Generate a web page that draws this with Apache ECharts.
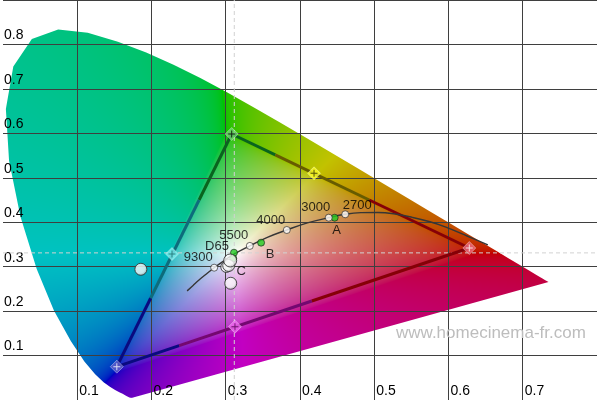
<!DOCTYPE html>
<html><head><meta charset="utf-8">
<script src="https://cdn.jsdelivr.net/npm/echarts@6/dist/echarts.min.js"></script>
<style>html,body{margin:0;padding:0;background:#fff}#c{width:600px;height:400px}</style>
</head><body><div id="c"></div>
<script>
// ---------- DATA ----------
const xTickLabels = ['', '0.1', '0.2', '0.3', '0.4', '0.5', '0.6', '0.7', ''];
const yTickLabels = ['', '0.1', '0.2', '0.3', '0.4', '0.5', '0.6', '0.7', '0.8', ''];

// CIE 1931 spectral locus (x, y), 380..700 nm
const spectralLocus = [
  [0.17411,0.00496],[0.17401,0.00498],[0.17380,0.00492],[0.17356,0.00492],[0.17334,0.00480],
  [0.17302,0.00478],[0.17258,0.00480],[0.17209,0.00483],[0.17141,0.00510],[0.17030,0.00579],
  [0.16888,0.00690],[0.16690,0.00856],[0.16441,0.01086],[0.16110,0.01379],[0.15664,0.01770],
  [0.15099,0.02274],[0.14396,0.02970],[0.13550,0.03988],[0.12412,0.05780],[0.10959,0.08684],
  [0.09129,0.13270],[0.06871,0.20072],[0.04539,0.29498],[0.02346,0.41270],[0.00817,0.53842],
  [0.00386,0.65482],[0.01387,0.75019],[0.03885,0.81202],[0.07430,0.83380],[0.11416,0.82621],
  [0.15472,0.80586],[0.19288,0.78163],[0.22962,0.75433],[0.26578,0.72432],[0.30160,0.69231],
  [0.33736,0.65885],[0.37310,0.62445],[0.40874,0.58961],[0.44406,0.55471],[0.47877,0.52020],
  [0.51249,0.48659],[0.54479,0.45443],[0.57515,0.42423],[0.60293,0.39650],[0.62704,0.37249],
  [0.64823,0.35139],[0.66576,0.33401],[0.68008,0.31975],[0.69150,0.30834],[0.70061,0.29930],
  [0.70792,0.29203],[0.71403,0.28593],[0.71903,0.28093],[0.72303,0.27695],[0.72599,0.27401],
  [0.73035,0.26965],[0.73288,0.26712],[0.73469,0.26531]
];

// colour-temperature curve
const tempCurve = [
  [0.2480,0.2455],[0.2560,0.2578],[0.2640,0.2700],[0.2735,0.2830],[0.2844,0.2977],
  [0.2960,0.3115],[0.3110,0.3280],[0.3324,0.3467],[0.3560,0.3660],[0.3822,0.3825],
  [0.4100,0.3985],[0.4387,0.4102],[0.4609,0.4178],[0.4820,0.4215],[0.5050,0.4220],
  [0.5300,0.4180],[0.5511,0.4110],[0.5750,0.4010],[0.5956,0.3895],[0.6250,0.3690],
  [0.6530,0.3488]
];
const tempNames  = ['9300', '5500', '4000', '3000', '2700'];
const tempPoints = [[0.2844,0.2977],[0.3324,0.3467],[0.3822,0.3825],[0.4387,0.4102],[0.4609,0.4178]];

const illumNames  = ['C', 'D65', 'B', 'A'];
const illumPoints = [[0.3101,0.3187],[0.3111,0.3315],[0.3476,0.3540],[0.4467,0.4102]];

const whitePoint = [0.3115, 0.3310];

// target primaries / secondaries
const targetNames  = ['R', 'G', 'B', 'Cy', 'M', 'Ye'];
const targetPoints = [[0.628,0.342],[0.308,0.5985],[0.1533,0.075],[0.2276,0.3285],[0.3124,0.1650],[0.4189,0.5101]];

// gamut triangle edges, with the points where the line colour changes
const edgeGB = [[0.308,0.5985],[0.2641,0.4500],[0.1988,0.2290],[0.1533,0.075]];
const edgeGR = [[0.308,0.5985],[0.3667,0.5515],[0.4933,0.4500],[0.628,0.342]];
const edgeBR = [[0.1533,0.075],[0.2373,0.1223],[0.4160,0.2228],[0.628,0.342]];

// measured points
const measuredPoints = [[0.1857,0.2941],[0.3067,0.2626],[0.3007,0.2993],[0.3040,0.3026],[0.3060,0.3139]];

// ---------- STYLES ----------
const FONT = '"Liberation Sans", Arial, sans-serif';
const edgeColors = {
  GB: ['#09641e', '#0d6c7c', '#0a0a80'],
  GR: ['#09641e', '#675c00', '#860007'],
  BR: ['#0a0a80', '#740870', '#860007']
};
const targetFill  = {R:'#ee6c7e', G:'#6fd46f', B:'#6363cc', Cy:'#7eeeee', M:'#f06cf0', Ye:'#ffff2a'};
const targetCross = {R:'#ffffff', G:'#000000', B:'#ffffff', Cy:'#1a6f6f', M:'#5a005a', Ye:'#333300'};
const tempLabelOffset  = {'9300':[-16,-10], '5500':[-16,-10], '4000':[-16,-10], '3000':[-13,-10], '2700':[12,-9]};
const illumLabelOffset = {'C':[8,13], 'D65':[-17,-6], 'B':[9,12], 'A':[2,13]};
const measuredSize = [12, 12, 11, 12, 13];

// ---------- COLOUR FIELD ----------
let fieldCanvas = null;
function gam(c){ c = Math.max(0, Math.min(1, c)); return c <= 0.0031308 ? 12.92*c : 1.055*Math.pow(c, 1/2.4) - 0.055; }
function xyToRGB(x, y){
  if (y <= 0.0001) y = 0.0001;
  const X = x / y, Y = 1, Z = (1 - x - y) / y;
  let r = 3.2406*X - 1.5372*Y - 0.4986*Z;
  let g = -0.9689*X + 1.8758*Y + 0.0415*Z;
  let b = 0.0557*X - 0.2040*Y + 1.0570*Z;
  const m = Math.min(r, g, b);
  if (m < 0) { r -= m; g -= m; b -= m; }
  const mx = Math.max(r, g, b) || 1;
  r /= mx; g /= mx; b /= mx;
  const w = Math.min(r, g, b);
  const k = 0.76 + 0.24 * Math.pow(w, 0.8);
  return [gam(r)*k*255, gam(g)*k*255, gam(b)*k*255];
}
function buildField(chart, W, H){
  const cv = document.createElement('canvas');
  cv.width = W; cv.height = H;
  const ctx = cv.getContext('2d');
  const img = ctx.createImageData(W, H);
  const cols = [], rows = [];
  for (let px = 0; px < W; px++) cols.push(chart.convertFromPixel({gridIndex:0}, [px + 0.5, 0])[0]);
  for (let py = 0; py < H; py++) rows.push(chart.convertFromPixel({gridIndex:0}, [0, py + 0.5])[1]);
  for (let py = 0; py < H; py++) {
    for (let px = 0; px < W; px++) {
      const c = xyToRGB(cols[px], rows[py]);
      const i = (py*W + px)*4;
      img.data[i] = c[0]; img.data[i+1] = c[1]; img.data[i+2] = c[2]; img.data[i+3] = 255;
    }
  }
  ctx.putImageData(img, 0, 0);
  return cv;
}

// ---------- OPTION ----------
function crossPath(){ return 'path://M3,0h1v3h3v1h-3v3h-1v-3h-3v-1h3z'; }

function buildOption(){
  const series = [];
  series.push({
    type: 'custom', id: 'locus', z: -1, silent: true,
    data: spectralLocus,
    renderItem: function(params, api){
      if (params.dataIndex !== 0) return null;
      const pts = spectralLocus.map(p => api.coord(p));
      return {type:'polygon', shape:{points: pts},
        style:{fill: fieldCanvas ? {image: fieldCanvas, repeat: 'no-repeat'} : 'rgba(0,0,0,0)', stroke: null}};
    }
  });
  // dashed crosshair through the white point
  series.push({type:'line', z: 1, silent: true, symbol:'none',
    data: [[whitePoint[0], 0], [whitePoint[0], 0.9]],
    lineStyle:{color:'#d2d2d2', width:1, type:[4,3]}});
  series.push({type:'line', z: 1, silent: true, symbol:'none',
    data: [[0, whitePoint[1]], [0.8, whitePoint[1]]],
    lineStyle:{color:'#d2d2d2', width:1, type:[4,3]}});
  // gamut edges
  const edges = {GB: edgeGB, GR: edgeGR, BR: edgeBR};
  Object.keys(edges).forEach(k => {
    const e = edges[k];
    for (let i = 0; i < e.length - 1; i++) {
      series.push({type:'line', z: 3, silent: true, symbol:'none',
        data:[e[i], e[i+1]], lineStyle:{color: edgeColors[k][i], width: 3, cap:'butt'}});
    }
  });
  // temperature curve
  series.push({type:'line', z: 4, silent: true, symbol:'none', smooth: 0.4,
    data: tempCurve, lineStyle:{color:'#363636', width: 1.4}});
  // target diamonds
  series.push({type:'scatter', z: 5, silent: true, symbol:'diamond', symbolSize: 13,
    data: targetNames.map((n, i) => ({name:n, value: targetPoints[i],
      itemStyle:{color: targetFill[n], borderColor:'rgba(255,255,255,0.45)', borderWidth: 1}}))});
  series.push({type:'scatter', z: 6, silent: true, symbol: crossPath(), symbolSize: 7,
    data: targetNames.map((n, i) => ({name:n, value: targetPoints[i], itemStyle:{color: targetCross[n]}}))});
  // illuminants (green dots)
  series.push({type:'scatter', z: 6, silent: true, symbolSize: 7,
    itemStyle:{color:'#22cc22', borderColor:'#1a1a1a', borderWidth: 0.8},
    label:{show:true, position:'inside', formatter:'{b}', color:'#000', fontFamily: FONT, fontSize: 13},
    data: illumNames.map((n, i) => ({name:n, value: illumPoints[i], label:{offset: illumLabelOffset[n]}}))});
  // temperature markers
  series.push({type:'scatter', z: 6, silent: true, symbolSize: 7,
    itemStyle:{color:'#ffffff', borderColor:'#1a1a1a', borderWidth: 0.8},
    label:{show:true, position:'inside', formatter:'{b}', color:'#000', fontFamily: FONT, fontSize: 13},
    data: tempNames.map((n, i) => ({name:n, value: tempPoints[i], label:{offset: tempLabelOffset[n]}}))});
  // measured points
  series.push({type:'scatter', z: 7, silent: true,
    itemStyle:{color:{type:'radial', x:0.42, y:0.4, r:0.62, colorStops:[
      {offset:0, color:'#ffffff'}, {offset:0.65, color:'#f6f6f6'}, {offset:1, color:'#a8a8a8'}]},
      borderColor:'#2a2a2a', borderWidth: 1},
    data: measuredPoints.map((p, i) => ({value: p, symbolSize: measuredSize[i]}))});

  return {
    animation: false,
    backgroundColor: '#ffffff',
    grid: {left: 0, right: 0, top: 0, bottom: 0, containLabel: false},
    xAxis: {type:'value', min: 0, max: 0.8, interval: 0.1, z: 0,
      axisLine:{show:false}, axisTick:{show:false},
      splitLine:{show:true, showMinLine:false, showMaxLine:false, lineStyle:{color:'#3f3f3f', width:1}},
      axisLabel:{inside:true, margin: 2, align:'left', verticalAlign:'bottom', padding:[0,0,0,2],
        color:'#000', fontFamily: FONT, fontSize: 14,
        formatter: v => xTickLabels[Math.round(v*10)] || ''}},
    yAxis: {type:'value', min: 0, max: 0.9, interval: 0.1, z: 0,
      axisLine:{show:false}, axisTick:{show:false},
      splitLine:{show:true, showMinLine:false, showMaxLine:true, lineStyle:{color:'#3f3f3f', width:1}},
      axisLabel:{inside:true, margin: 1, align:'left', verticalAlign:'bottom', padding:[0,0,2,0],
        color:'#000', fontFamily: FONT, fontSize: 14,
        formatter: v => yTickLabels[Math.round(v*10)] || ''}},
    graphic: [{type:'text', left: 396, top: 325, z: 10, silent: true,
      style:{text:'www.homecinema-fr.com', fill:'#bdbdbd', font:'17px "Liberation Sans", Arial, sans-serif'}}],
    series: series
  };
}

const chart = echarts.init(document.getElementById('c'), null, {renderer:'canvas'});
chart.setOption(buildOption());
fieldCanvas = buildField(chart, chart.getWidth(), chart.getHeight());
chart.setOption(buildOption(), true);
</script>
</body></html>
